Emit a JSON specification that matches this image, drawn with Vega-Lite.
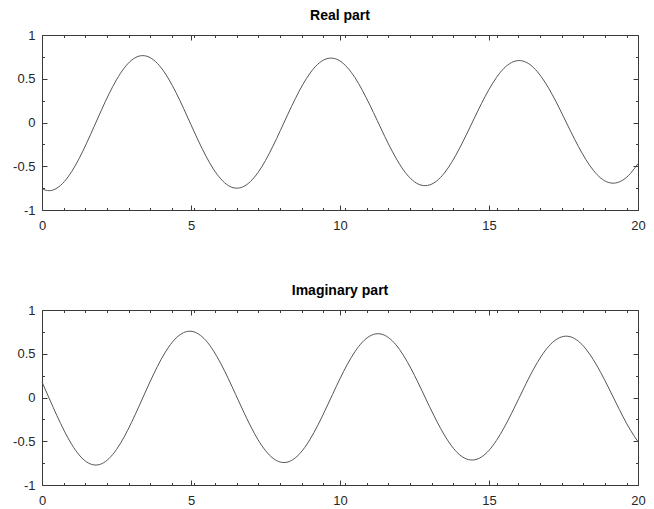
{
  "$schema": "https://vega.github.io/schema/vega-lite/v6.json",
  "padding": {"left": 12, "top": 8, "right": 0, "bottom": 0},
  "background": "white",
  "datasets": {
    "d": [
      {"x":0,"re":-0.760,"im":0.177},{"x":0.25,"re":-0.779,"im":-0.016},{"x":0.5,"re":-0.750,"im":-0.207},{"x":0.75,"re":-0.675,"im":-0.384},{"x":1,"re":-0.559,"im":-0.538},
      {"x":1.25,"re":-0.409,"im":-0.658},{"x":1.5,"re":-0.234,"im":-0.737},{"x":1.75,"re":-0.045,"im":-0.771},{"x":2,"re":0.146,"im":-0.757},{"x":2.25,"re":0.328,"im":-0.697},
      {"x":2.5,"re":0.488,"im":-0.594},{"x":2.75,"re":0.619,"im":-0.455},{"x":3,"re":0.710,"im":-0.288},{"x":3.25,"re":0.758,"im":-0.104},{"x":3.5,"re":0.759,"im":0.086},
      {"x":3.75,"re":0.714,"im":0.270},{"x":4,"re":0.625,"im":0.437},{"x":4.25,"re":0.497,"im":0.576},{"x":4.5,"re":0.340,"im":0.680},{"x":4.75,"re":0.162,"im":0.741},
      {"x":5,"re":-0.026,"im":0.757},{"x":5.25,"re":-0.211,"im":0.726},{"x":5.5,"re":-0.383,"im":0.651},{"x":5.75,"re":-0.531,"im":0.536},{"x":6,"re":-0.645,"im":0.388},
      {"x":6.25,"re":-0.720,"im":0.217},{"x":6.5,"re":-0.750,"im":0.033},{"x":6.75,"re":-0.734,"im":-0.152},{"x":7,"re":-0.673,"im":-0.328},{"x":7.25,"re":-0.571,"im":-0.483},
      {"x":7.5,"re":-0.434,"im":-0.607},{"x":7.75,"re":-0.270,"im":-0.694},{"x":8,"re":-0.091,"im":-0.738},{"x":8.25,"re":0.094,"im":-0.737},{"x":8.5,"re":0.272,"im":-0.690},
      {"x":8.75,"re":0.433,"im":-0.601},{"x":9,"re":0.566,"im":-0.475},{"x":9.25,"re":0.665,"im":-0.321},{"x":9.5,"re":0.722,"im":-0.147},{"x":9.75,"re":0.735,"im":0.035},
      {"x":10,"re":0.703,"im":0.215},{"x":10.25,"re":0.627,"im":0.381},{"x":10.5,"re":0.514,"im":0.523},{"x":10.75,"re":0.368,"im":0.632},{"x":11,"re":0.201,"im":0.702},
      {"x":11.25,"re":0.022,"im":0.729},{"x":11.5,"re":-0.158,"im":0.711},{"x":11.75,"re":-0.327,"im":0.649},{"x":12,"re":-0.477,"im":0.548},{"x":12.25,"re":-0.596,"im":0.413},
      {"x":12.5,"re":-0.678,"im":0.253},{"x":12.75,"re":-0.718,"im":0.078},{"x":13,"re":-0.714,"im":-0.101},{"x":13.25,"re":-0.667,"im":-0.273},{"x":13.5,"re":-0.578,"im":-0.428},
      {"x":13.75,"re":-0.454,"im":-0.556},{"x":14,"re":-0.302,"im":-0.650},{"x":14.25,"re":-0.133,"im":-0.703},{"x":14.5,"re":0.044,"im":-0.713},{"x":14.75,"re":0.218,"im":-0.679},
      {"x":15,"re":0.378,"im":-0.604},{"x":15.25,"re":0.514,"im":-0.491},{"x":15.5,"re":0.619,"im":-0.349},{"x":15.75,"re":0.684,"im":-0.186},{"x":16,"re":0.708,"im":-0.012},
      {"x":16.25,"re":0.688,"im":0.163},{"x":16.5,"re":0.626,"im":0.327},{"x":16.75,"re":0.525,"im":0.470},{"x":17,"re":0.393,"im":0.584},{"x":17.25,"re":0.237,"im":0.661},
      {"x":17.5,"re":0.066,"im":0.698},{"x":17.75,"re":-0.107,"im":0.692},{"x":18,"re":-0.274,"im":0.643},{"x":18.25,"re":-0.423,"im":0.555},{"x":18.5,"re":-0.546,"im":0.433},
      {"x":18.75,"re":-0.635,"im":0.285},{"x":19,"re":-0.684,"im":0.120},{"x":19.25,"re":-0.691,"im":-0.052},{"x":19.5,"re":-0.656,"im":-0.221},{"x":19.75,"re":-0.581,"im":-0.375},
      {"x":20,"re":-0.470,"im":-0.505}
    ]
  },
  "config": {
    "view": {"stroke": "#3a3a3a", "strokeWidth": 1},
    "font": "Liberation Sans",
    "axis": {
      "domain": false, "grid": false, "title": null,
      "tickColor": "#3a3a3a", "tickWidth": 1,
      "labelFont": "Liberation Sans", "labelFontSize": 13, "labelColor": "#262626",
      "labelFlush": false, "labelOverlap": false
    },
    "title": {"font": "Liberation Sans", "fontSize": 14, "fontWeight": "bold", "color": "#000000", "anchor": "middle", "frame": "group", "offset": 6.5}
  },
  "spacing": 50,
  "vconcat": [
    {
      "width": 596, "height": 175,
      "title": {"text": "Real part"},
      "data": {"name": "d"},
      "resolve": {"axis": {"x": "independent", "y": "independent"}},
      "layer": [
        {
          "mark": {"type": "line", "color": "#555555", "strokeWidth": 1, "interpolate": "natural"},
          "encoding": {
            "x": {"field": "x", "type": "quantitative", "scale": {"domain": [0, 20], "nice": false},
                  "axis": {"orient": "bottom", "values": [0,5,10,15,20], "tickSize": -5, "labelPadding": 14, "labelExpr": "'' + datum.value"}},
            "y": {"field": "re", "type": "quantitative", "scale": {"domain": [-1, 1], "nice": false},
                  "axis": {"orient": "left", "values": [-1,-0.5,0,0.5,1], "tickSize": -5, "labelPadding": 12, "labelExpr": "'' + datum.value"}}
          }
        },
        {
          "mark": {"type": "line", "opacity": 0},
          "encoding": {
            "x": {"field": "x", "type": "quantitative", "axis": {"orient": "top", "values": [0,5,10,15,20], "tickSize": -5, "labels": false}},
            "y": {"field": "re", "type": "quantitative", "axis": {"orient": "right", "values": [-1,-0.5,0,0.5,1], "tickSize": -5, "labels": false}}
          }
        },
        {
          "mark": {"type": "line", "opacity": 0},
          "encoding": {
            "x": {"field": "x", "type": "quantitative", "axis": {"orient": "bottom", "values": [0.727,1.453,2.18,2.906,3.633,4.359,5.086,5.812,6.539,7.265,7.992,8.718,9.445,10.171,10.898,11.624,12.351,13.077,13.804,14.53,15.257,15.983,16.71,17.436,18.163,18.889,19.616], "tickSize": -2.5, "labels": false}},
            "y": {"field": "re", "type": "quantitative", "axis": {"orient": "left", "values": [-0.75,-0.25,0.25,0.75], "tickSize": -2.5, "labels": false}}
          }
        },
        {
          "mark": {"type": "line", "opacity": 0},
          "encoding": {
            "x": {"field": "x", "type": "quantitative", "axis": {"orient": "top", "values": [0.727,1.453,2.18,2.906,3.633,4.359,5.086,5.812,6.539,7.265,7.992,8.718,9.445,10.171,10.898,11.624,12.351,13.077,13.804,14.53,15.257,15.983,16.71,17.436,18.163,18.889,19.616], "tickSize": -2.5, "labels": false}},
            "y": {"field": "re", "type": "quantitative", "axis": {"orient": "right", "values": [-0.75,-0.25,0.25,0.75], "tickSize": -2.5, "labels": false}}
          }
        }
      ]
    },
    {
      "width": 596, "height": 175,
      "title": {"text": "Imaginary part"},
      "data": {"name": "d"},
      "resolve": {"axis": {"x": "independent", "y": "independent"}},
      "layer": [
        {
          "mark": {"type": "line", "color": "#555555", "strokeWidth": 1, "interpolate": "natural"},
          "encoding": {
            "x": {"field": "x", "type": "quantitative", "scale": {"domain": [0, 20], "nice": false},
                  "axis": {"orient": "bottom", "values": [0,5,10,15,20], "tickSize": -5, "labelPadding": 14, "labelExpr": "'' + datum.value"}},
            "y": {"field": "im", "type": "quantitative", "scale": {"domain": [-1, 1], "nice": false},
                  "axis": {"orient": "left", "values": [-1,-0.5,0,0.5,1], "tickSize": -5, "labelPadding": 12, "labelExpr": "'' + datum.value"}}
          }
        },
        {
          "mark": {"type": "line", "opacity": 0},
          "encoding": {
            "x": {"field": "x", "type": "quantitative", "axis": {"orient": "top", "values": [0,5,10,15,20], "tickSize": -5, "labels": false}},
            "y": {"field": "im", "type": "quantitative", "axis": {"orient": "right", "values": [-1,-0.5,0,0.5,1], "tickSize": -5, "labels": false}}
          }
        },
        {
          "mark": {"type": "line", "opacity": 0},
          "encoding": {
            "x": {"field": "x", "type": "quantitative", "axis": {"orient": "bottom", "values": [0.727,1.453,2.18,2.906,3.633,4.359,5.086,5.812,6.539,7.265,7.992,8.718,9.445,10.171,10.898,11.624,12.351,13.077,13.804,14.53,15.257,15.983,16.71,17.436,18.163,18.889,19.616], "tickSize": -2.5, "labels": false}},
            "y": {"field": "im", "type": "quantitative", "axis": {"orient": "left", "values": [-0.75,-0.25,0.25,0.75], "tickSize": -2.5, "labels": false}}
          }
        },
        {
          "mark": {"type": "line", "opacity": 0},
          "encoding": {
            "x": {"field": "x", "type": "quantitative", "axis": {"orient": "top", "values": [0.727,1.453,2.18,2.906,3.633,4.359,5.086,5.812,6.539,7.265,7.992,8.718,9.445,10.171,10.898,11.624,12.351,13.077,13.804,14.53,15.257,15.983,16.71,17.436,18.163,18.889,19.616], "tickSize": -2.5, "labels": false}},
            "y": {"field": "im", "type": "quantitative", "axis": {"orient": "right", "values": [-0.75,-0.25,0.25,0.75], "tickSize": -2.5, "labels": false}}
          }
        }
      ]
    }
  ]
}
